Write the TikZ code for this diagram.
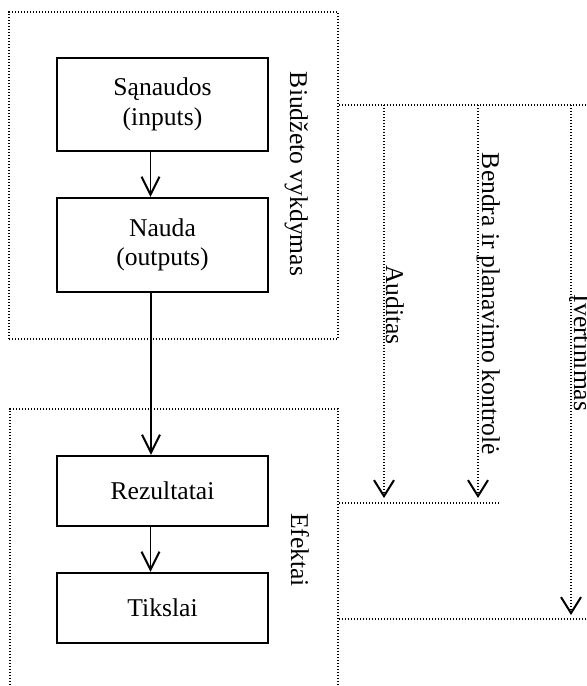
\documentclass[tikz,border=0pt]{standalone}
\usepackage{fontspec}
\setmainfont{Liberation Serif}
\usetikzlibrary{arrows.meta}
\begin{document}
\begin{tikzpicture}[x=0.5pt,y=-0.5pt,
  font=\fontsize{12.8}{14.7}\selectfont,
  stage/.style={draw, line width=1.1pt, minimum width=105.5pt, align=center, inner sep=0pt},
  flow/.style={line width=0.8pt, -{Straight Barb[length=9pt,width=9pt,line width=1pt]}},
  zone/.style={line width=0.8pt, dash pattern=on 0.7pt off 0.8pt},
  zonebox/.style={zone, draw, inner sep=0pt},
  ctrl/.style={zone, -{Straight Barb[length=8pt,width=10pt,line width=1pt]}},
  lab/.style={rotate=-90, anchor=base, inner sep=0pt}
]
\useasboundingbox (0,0) rectangle (586,686);
\clip (0,0) rectangle (586,686);

% budget execution zone and effects zone
\node[zonebox, minimum width=164.5pt, minimum height=163.5pt] (budget) at (173.5,175.5) {};
\node[zonebox, minimum width=164pt, minimum height=155.5pt] (effects) at (174,564.5) {};

% process stages
\node[stage, minimum height=46.5pt] (san) at (162.5,104.5) {Sąnaudos\\(inputs)};
\node[stage, minimum height=47pt] (nau) at (162.5,245) {Nauda\\(outputs)};
\node[stage, minimum height=35pt] (rez) at (162.5,491) {Rezultatai};
\node[stage, minimum height=35pt] (tik) at (162.5,608) {Tikslai};

\draw[flow] ([xshift=-6pt]san.south) -- ([xshift=-6pt]nau.north);
\draw[flow] ([xshift=-5.75pt]nau.south) -- ([xshift=-5.75pt]rez.north);
\draw[flow] ([xshift=-6pt]rez.south) -- ([xshift=-6pt]tik.north);

% zone captions
\node[lab] (lbud) at (290,174) {Biudžeto vykdymas};
\node[lab] (leff) at (291,550) {Efektai};

% control and evaluation lines
\coordinate (hTop) at (600,105);
\coordinate (aTop) at (384,105);
\coordinate (aEnd) at (384,498);
\coordinate (bTop) at (478,105);
\coordinate (bEnd) at (478,498);
\coordinate (cTop) at (571,105);
\coordinate (cEnd) at (571,615);
\coordinate (mEnd) at (498,503);
\coordinate (lEnd) at (600,619);

\draw[zone] (budget.east |- hTop) -- (hTop);
\draw[ctrl] (aTop) -- (aEnd);
\draw[ctrl] (bTop) -- (bEnd);
\draw[ctrl] (cTop) -- (cEnd);
\draw[zone] (effects.east |- mEnd) -- (mEnd);
\draw[zone] (effects.east |- lEnd) -- (lEnd);

\node[lab] (laud) at (386,305) {Auditas};
\node[lab] (lben) at (482,304) {Bendra ir planavimo kontrolė};
\node[lab] (livr) at (574,353) {Įvertinimas};
\end{tikzpicture}
\end{document}
